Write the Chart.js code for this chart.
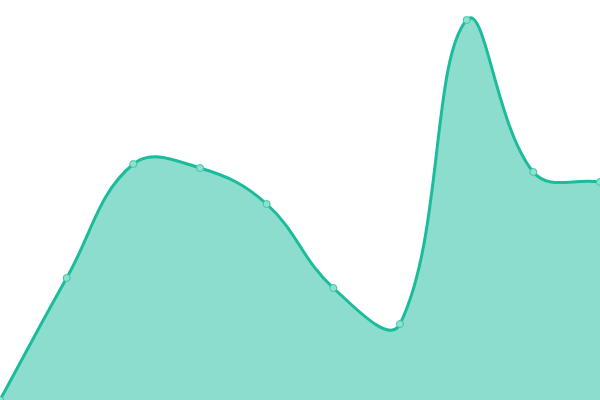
<!DOCTYPE html>
<html>
<head>
<meta charset="utf-8">
<script src="https://cdn.jsdelivr.net/npm/chart.js@4"></script>
<style>
  html, body { margin: 0; padding: 0; background: #fff; }
  #wrap { width: 600px; height: 400px; }
</style>
</head>
<body>
<div id="wrap"><canvas id="areaChart"></canvas></div>
<script>
const labels = ['1', '2', '3', '4', '5', '6', '7', '8', '9', '10'];
const values = [0, 30.5, 59, 58, 49, 28, 19, 95, 57, 54.5];
const Y_MIN = 0;
const Y_MAX = 100;

const ctx = document.getElementById('areaChart').getContext('2d');

const chart = new Chart(ctx, {
    type: 'line',
    data: {
        labels: labels,
        datasets: [
            {
                data: values,
                borderColor: '#1abc9c',
                backgroundColor: 'rgba(26,188,156,0.5)',
                borderWidth: 3,
                fill: true,
                tension: 0.4,
                pointRadius: 3.5,
                pointBorderWidth: 1,
                pointBackgroundColor: '#8ee0cf',
                pointBorderColor: '#3cc4a6'
            }
        ]
    },
    options: {
        responsive: true,
        maintainAspectRatio: false,
        animation: false,
        layout: { padding: 0, autoPadding: false },
        plugins: {
            legend: { display: false },
            tooltip: { enabled: false }
        },
        scales: {
            x: { display: false },
            y: { display: false, min: Y_MIN, max: Y_MAX }
        }
    }
});
</script>
</body>
</html>
